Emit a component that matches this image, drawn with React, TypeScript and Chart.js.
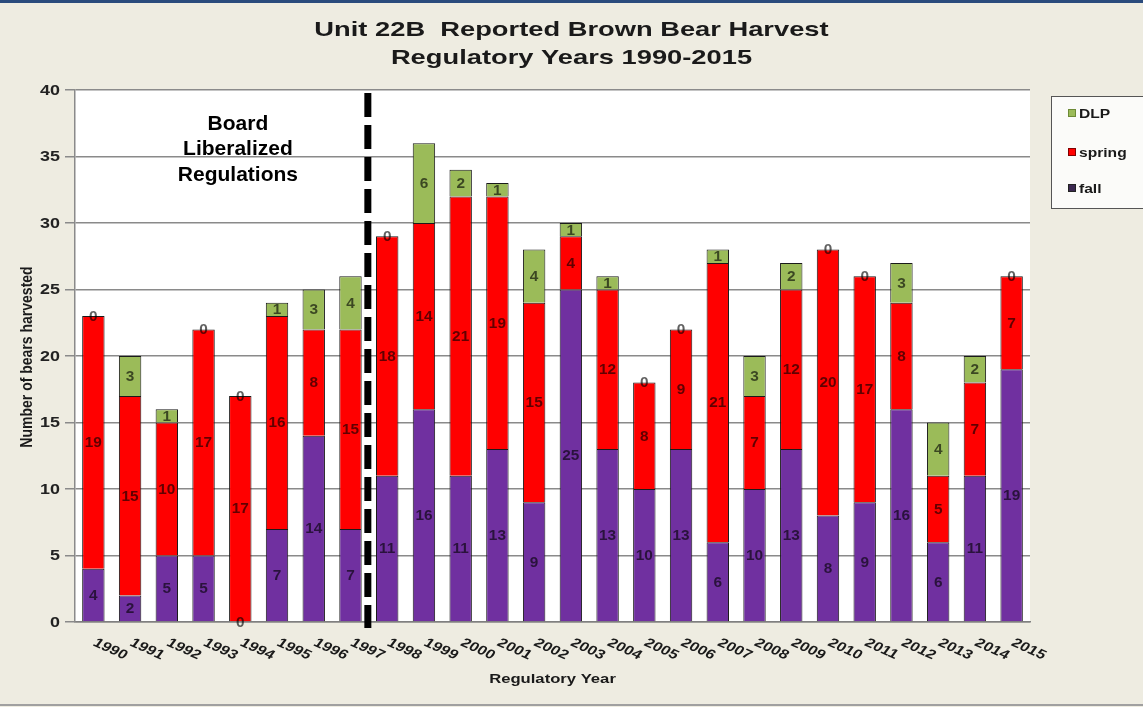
import React, { useEffect, useRef } from "react";
import { Chart, registerables } from "chart.js";

Chart.register(...registerables);

const years = [
  "1990", "1991", "1992", "1993", "1994", "1995", "1996", "1997", "1998", "1999",
  "2000", "2001", "2002", "2003", "2004", "2005", "2006", "2007", "2008", "2009",
  "2010", "2011", "2012", "2013", "2014", "2015",
];
const fall = [4, 2, 5, 5, 0, 7, 14, 7, 11, 16, 11, 13, 9, 25, 13, 10, 13, 6, 10, 13, 8, 9, 16, 6, 11, 19];
const spring = [19, 15, 10, 17, 17, 16, 8, 15, 18, 14, 21, 19, 15, 4, 12, 8, 9, 21, 7, 12, 20, 17, 8, 5, 7, 7];
const dlp = [0, 3, 1, 0, 0, 1, 3, 4, 0, 6, 2, 1, 4, 1, 1, 0, 0, 1, 3, 2, 0, 0, 3, 4, 2, 0];

const yTickValues = [0, 5, 10, 15, 20, 25, 30, 35, 40];

const titleLines = ["Unit 22B  Reported Brown Bear Harvest", "Regulatory Years 1990-2015"];
const annotationLines = ["Board", "Liberalized", "Regulations"];
const dividerAfterIndex = 7; // between 1997 and 1998
const xAxisTitle = "Regulatory Year";
const yAxisTitle = "Number of bears harvested";

const FONT = "'Liberation Sans', Arial, Helvetica, sans-serif";
const COLORS = { fall: "#7030A0", spring: "#FF0000", dlp: "#9BBB59" };
const STRETCH = 1.28;

function stretchText(ctx: any, text: string, x: number, y: number, sx: number, align: string) {
  ctx.save();
  ctx.translate(x, y);
  ctx.scale(sx, 1);
  ctx.textAlign = align;
  ctx.fillText(text, 0, 0);
  ctx.restore();
}

const decorPlugin = {
  id: "decor",
  beforeDraw(chart: any) {
    const { ctx, width, height, chartArea: a } = chart;
    ctx.save();
    ctx.fillStyle = "#EEECE1";
    ctx.fillRect(0, 0, width, height);
    ctx.fillStyle = "#2A4B7C";
    ctx.fillRect(0, 0, width, 3);
    ctx.fillStyle = "#a0a0a0";
    ctx.fillRect(0, height - 3, width, 2);
    ctx.fillStyle = "#ffffff";
    ctx.fillRect(a.left, a.top, a.right - a.left, a.bottom - a.top);
    ctx.restore();
  },
  afterDatasetsDraw(chart: any) {
    const { ctx } = chart;
    ctx.save();
    ctx.font = `bold 14px ${FONT}`;
    ctx.textBaseline = "middle";
    ctx.fillStyle = "rgba(0,0,0,0.62)";
    chart.data.datasets.forEach((ds: any, di: number) => {
      const meta = chart.getDatasetMeta(di);
      meta.data.forEach((el: any, i: number) => {
        const v = ds.data[i];
        const cy = (el.y + el.base) / 2;
        stretchText(ctx, String(v), el.x, cy + 1, 1.1, "center");
      });
    });
    ctx.restore();
  },
  afterDraw(chart: any) {
    const { ctx, width, chartArea: a } = chart;
    const xs = chart.scales.x;
    const ys = chart.scales.y;
    ctx.save();

    // dashed divider
    const dx = (xs.getPixelForTick(dividerAfterIndex) + xs.getPixelForTick(dividerAfterIndex + 1)) / 2 - 1;
    ctx.strokeStyle = "#000";
    ctx.lineWidth = 7;
    ctx.setLineDash([24, 8]);
    ctx.beginPath();
    ctx.moveTo(dx, a.top + 3);
    ctx.lineTo(dx, a.bottom + 6);
    ctx.stroke();
    ctx.setLineDash([]);

    ctx.textBaseline = "middle";

    // annotation
    ctx.fillStyle = "#000";
    ctx.font = `bold 21px ${FONT}`;
    const ax = (xs.getPixelForTick(3) + xs.getPixelForTick(4)) / 2 + 16;
    annotationLines.forEach((t, i) => stretchText(ctx, t, ax, a.top + 34 + i * 25.5, 1, "center"));

    // title
    ctx.fillStyle = "#1a1a1a";
    ctx.font = `bold 21px ${FONT}`;
    titleLines.forEach((t, i) => stretchText(ctx, t, width / 2, 30 + i * 28, 1.3, "center"));

    // y tick labels
    ctx.font = `bold 14px ${FONT}`;
    ctx.fillStyle = "#222";
    yTickValues.forEach((v) => {
      stretchText(ctx, String(v), a.left - 15, ys.getPixelForValue(v) + 1, STRETCH, "right");
    });

    // x tick labels
    ctx.font = `bold 13px ${FONT}`;
    ctx.fillStyle = "#1a1a1a";
    ctx.textAlign = "left";
    years.forEach((y, i) => {
      const x = xs.getPixelForTick(i);
      ctx.save();
      ctx.translate(x + 1, a.bottom + 20);
      ctx.scale(STRETCH, 1);
      ctx.rotate((30 * Math.PI) / 180);
      ctx.fillText(y, 0, 0);
      ctx.restore();
    });

    // x axis title
    ctx.font = `bold 13px ${FONT}`;
    stretchText(ctx, xAxisTitle, (a.left + a.right) / 2, 679, STRETCH, "center");

    // y axis title
    ctx.save();
    ctx.translate(28, 357);
    ctx.scale(1.15, 1);
    ctx.rotate(-Math.PI / 2);
    ctx.textAlign = "center";
    ctx.font = `bold 14px ${FONT}`;
    ctx.fillText(yAxisTitle, 0, 0);
    ctx.restore();

    // legend
    const lx = 1051;
    const ly = 96;
    ctx.fillStyle = "#fbfbf9";
    ctx.fillRect(lx, ly, width - lx + 5, 112);
    ctx.strokeStyle = "#555";
    ctx.lineWidth = 1;
    ctx.strokeRect(lx + 0.5, ly + 0.5, width - lx + 5, 112);
    const items = [
      { label: chart.data.datasets[2].label, color: COLORS.dlp, border: "#6d8a36", y: 113 },
      { label: chart.data.datasets[1].label, color: COLORS.spring, border: "#800000", y: 152 },
      { label: chart.data.datasets[0].label, color: "#3b2850", border: "#222", y: 188 },
    ];
    ctx.font = `bold 13px ${FONT}`;
    items.forEach((it) => {
      ctx.fillStyle = it.color;
      ctx.fillRect(lx + 17, it.y - 4, 8, 8);
      ctx.strokeStyle = it.border;
      ctx.strokeRect(lx + 17.5, it.y - 3.5, 7, 7);
      ctx.fillStyle = "#1a1a1a";
      stretchText(ctx, it.label, lx + 28, it.y + 1, 1.2, "left");
    });

    ctx.restore();
  },
};

export default function App() {
  const canvasRef = useRef<HTMLCanvasElement | null>(null);

  useEffect(() => {
    if (!canvasRef.current) return;
    const common = {
      borderColor: "#1a1a1a",
      borderWidth: 1,
      categoryPercentage: 1,
      barPercentage: 0.61,
    };
    const chart = new Chart(canvasRef.current, {
      type: "bar",
      data: {
        labels: years,
        datasets: [
          { label: "fall", data: fall, backgroundColor: COLORS.fall, ...common },
          { label: "spring", data: spring, backgroundColor: COLORS.spring, ...common },
          { label: "DLP", data: dlp, backgroundColor: COLORS.dlp, ...common },
        ],
      },
      options: {
        responsive: false,
        animation: false,
        devicePixelRatio: 1,
        layout: { padding: { top: 90, right: 113, left: 0, bottom: 0 } },
        plugins: {
          legend: { display: false },
          title: { display: false },
          tooltip: { enabled: false },
        },
        scales: {
          x: {
            stacked: true,
            grid: { display: false },
            border: { display: true, color: "#808080", width: 1.5 },
            ticks: { display: false },
            afterFit: (s: any) => {
              s.height = 85;
            },
          },
          y: {
            stacked: true,
            min: yTickValues[0],
            max: yTickValues[yTickValues.length - 1],
            ticks: { stepSize: yTickValues[1] - yTickValues[0], display: false },
            grid: { color: "#8a8a8a", lineWidth: 1.5, tickLength: 10, drawTicks: true },
            border: { display: true, color: "#8a8a8a", width: 1.5 },
            afterFit: (s: any) => {
              s.width = 75;
            },
          },
        },
      },
      plugins: [decorPlugin],
    } as any);
    return () => chart.destroy();
  }, []);

  return (
    <div style={{ position: "absolute", left: 0, top: 0, width: 1143, height: 707 }}>
      <canvas ref={canvasRef} width={1143} height={707} style={{ display: "block" }} />
    </div>
  );
}
